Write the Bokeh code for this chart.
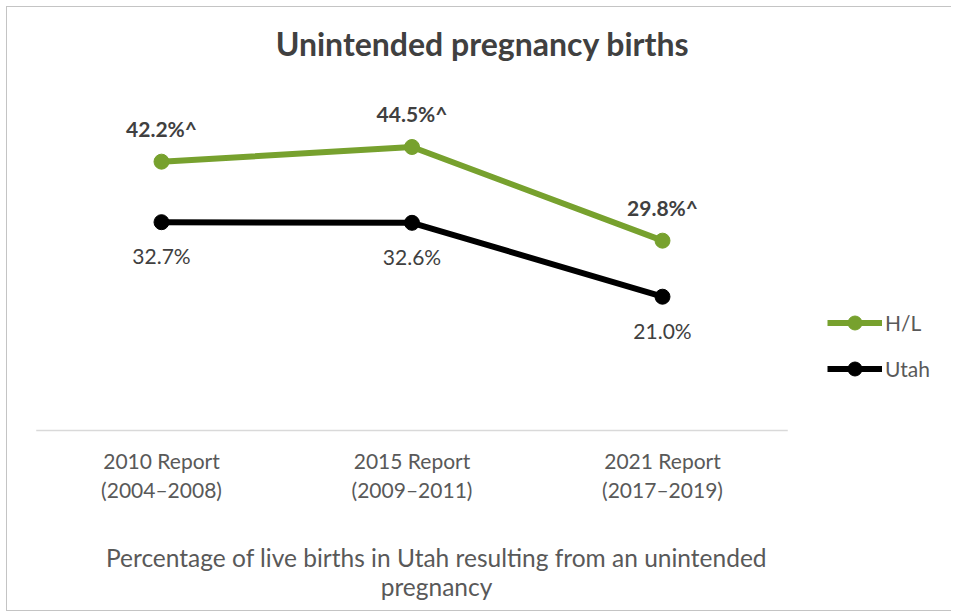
from bokeh.plotting import figure
from bokeh.models import Range1d, ColumnDataSource, LabelSet, Label, Legend, LegendItem
from bokeh.embed import file_html
from bokeh.resources import INLINE
from bokeh.core.properties import value

# ---- data ----
categories = ["2010 Report\n(2004–2008)", "2015 Report\n(2009–2011)", "2021 Report\n(2017–2019)"]
hl_values = [42.2, 44.5, 29.8]
utah_values = [32.7, 32.6, 21.0]
hl_text = ["42.2%^", "44.5%^", "29.8%^"]
utah_text = ["32.7%", "32.6%", "21.0%"]
series_names = ["H/L", "Utah"]
title_text = "Unintended pregnancy births"
axis_title_lines = ["Percentage of live births in Utah resulting from an unintended", "pregnancy"]

GREEN = "#77a12e"
BLACK = "#000000"
DARK = "#404040"
GREY = "#595959"
FONT = "Lato"

idx = list(range(len(categories)))

p = figure(
    width=945, height=605,
    x_range=Range1d(-0.6148, 3.1577),
    y_range=Range1d(-28.57, 66.4),
    x_axis_location=None, y_axis_location=None,
    output_backend="svg", toolbar_location=None,
    min_border_left=0, min_border_right=0, min_border_top=0, min_border_bottom=0,
)
p.styles = {"margin-left": "6px", "margin-top": "6px",
            "border-left": "1px solid #c4c4c4", "border-top": "1px solid #c4c4c4",
            "border-bottom": "1px solid #c4c4c4"}
p.outline_line_color = None
p.grid.visible = False
p.background_fill_color = "white"
p.border_fill_color = "white"

# category axis: baseline spanning the category bands + category labels
p.segment(x0=[idx[0] - 0.5], y0=[0], x1=[idx[-1] + 0.5], y1=[0],
          line_color="#d9d9d9", line_width=1.5)
cat_src = ColumnDataSource(dict(x=idx, y=[0] * len(idx), t=categories))
p.text(x="x", y="y", text="t", source=cat_src, y_offset=18,
       text_align="center", text_baseline="top", text_line_height=1.15,
       text_font=value(FONT), text_font_size="21px", text_color=GREY)

src_hl = ColumnDataSource(dict(x=idx, y=hl_values, t=hl_text))
src_ut = ColumnDataSource(dict(x=idx, y=utah_values, t=utah_text))

l1 = p.line("x", "y", source=src_hl, line_color=GREEN, line_width=6)
s1 = p.scatter("x", "y", source=src_hl, size=15, fill_color=GREEN, line_color=GREEN)
l2 = p.line("x", "y", source=src_ut, line_color=BLACK, line_width=6)
s2 = p.scatter("x", "y", source=src_ut, size=15, fill_color=BLACK, line_color=BLACK)

p.add_layout(LabelSet(x="x", y="y", text="t", source=src_hl, y_offset=25,
                      text_align="center", text_baseline="alphabetic",
                      text_font=value(FONT), text_font_size="21px",
                      text_font_style="bold", text_color=DARK))
p.add_layout(LabelSet(x="x", y="y", text="t", source=src_ut, y_offset=-21,
                      text_align="center", text_baseline="top",
                      text_font=value(FONT), text_font_size="21px", text_color=DARK))

# chart title
p.add_layout(Label(x=1.2814, y=60.8, text=title_text, text_align="center",
                   text_baseline="alphabetic", text_font=FONT, text_font_size="32px",
                   text_font_style="bold", text_color=DARK))

# axis title (two centred lines)
for line, y in zip(axis_title_lines, [-19.9, -24.45]):
    p.add_layout(Label(x=1.0978, y=y, text=line, text_align="center",
                       text_baseline="alphabetic", text_font=FONT, text_font_size="24.5px",
                       text_color=GREY))

legend = Legend(items=[LegendItem(label=series_names[0], renderers=[l1, s1]),
                       LegendItem(label=series_names[1], renderers=[l2, s2])],
                location=(820, 44 + 182), orientation="vertical",
                glyph_width=55, glyph_height=35, label_height=35, spacing=11,
                label_standoff=3, padding=0, margin=0,
                border_line_color=None, background_fill_alpha=0,
                label_text_font=FONT, label_text_font_size="21px", label_text_color=GREY)
p.add_layout(legend)

open("out.html", "w").write(file_html(p, INLINE))
